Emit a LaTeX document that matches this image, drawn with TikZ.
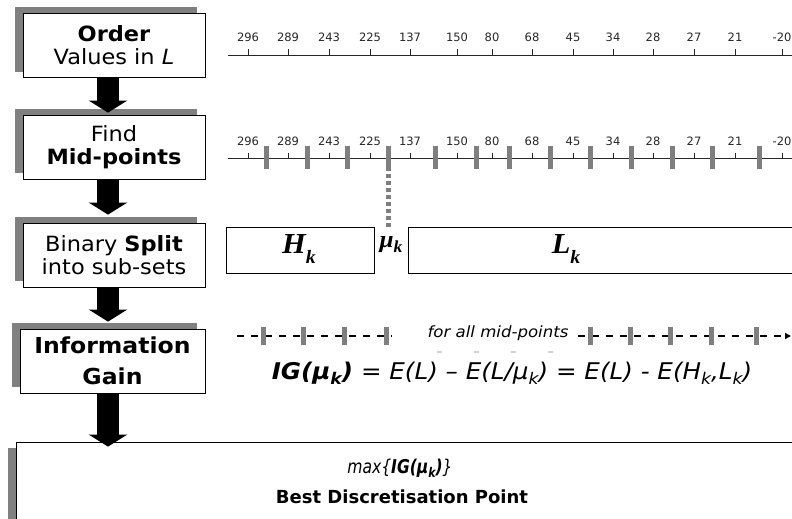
\documentclass[tikz,border=0pt]{standalone}
\usepackage{fontspec}
\setmainfont{DejaVu Sans}[FakeStretch=1.07]
\newfontfamily\plainsans{DejaVu Sans}
\newfontfamily\condsans{DejaVu Sans}[FakeStretch=0.82]
\newfontfamily\serifbi{Liberation Serif}[FakeStretch=1.05]
\usetikzlibrary{arrows.meta,shadows}
\newcommand\mysub[1]{\raisebox{-0.4ex}{\scalebox{0.7}{#1}}}
\newcommand\mysubl[1]{\raisebox{-0.75ex}{\scalebox{0.65}{#1}}}
\definecolor{shadowgray}{HTML}{808080}
\definecolor{bargray}{HTML}{7F7F7F}
\definecolor{axisgray}{HTML}{262626}
\begin{document}
\begin{tikzpicture}[x=1pt,y=-1pt,
  boxbase/.style={draw=black, line width=0.8pt, fill=white, align=center, inner sep=0pt},
  stepbox/.style={boxbase, minimum width=182pt, minimum height=64pt,
    general shadow={fill=shadowgray, shadow xshift=-8pt, shadow yshift=6pt},
    font=\fontsize{21}{23}\selectfont},
  resultbox/.style={boxbase, minimum width=784pt, minimum height=88pt,
    general shadow={fill=shadowgray, shadow xshift=-8pt, shadow yshift=-6pt}},
  setbox/.style={draw=black, line width=0.6pt, fill=white, inner sep=0pt, minimum height=46pt},
  flowarrow/.style={line width=22pt, -{Triangle[width=38pt,length=12pt]}, black},
  numlbl/.style={font=\plainsans\fontsize{11.5}{13}\selectfont, inner sep=0pt, text=axisgray},
  axisline/.style={axisgray, line width=0.8pt},
  midbar/.style={bargray, line width=5pt},
  flowdash/.style={black, line width=2pt, dash pattern=on 7pt off 7pt},
  mathtxt/.style={font=\fontsize{23}{26}\selectfont\itshape, inner sep=0pt},
]
\useasboundingbox (0,0) rectangle (792,519);

% ---- flow boxes
\node[stepbox] (b1) at (114,45.5) {\textbf{Order}\\Values in \textit{L}};
\node[stepbox] (b2) at (114,147) {Find\\\textbf{Mid-points}};
\node[stepbox] (b3) at (114,255) {Binary \textbf{Split}\\into sub-sets};
\node[stepbox, minimum width=185pt, font=\fontsize{22}{31}\selectfont] (b4) at (112.5,361) {\textbf{Information}\\\textbf{Gain}};
\node[resultbox] (b5) at (408,486) {};
\node[inner sep=0pt, font=\condsans\fontsize{19}{21}\selectfont\itshape] (m1) at (400,468) {max\{\textbf{IG(μ\mysub{k})}\}};
\node[inner sep=0pt, font=\plainsans\fontsize{18}{21}\selectfont\bfseries] (m2) at (402,497) {Best Discretisation Point};

% ---- arrows
\coordinate (ax) at (108,0);
\draw[flowarrow] (b1.south -| ax) -- ([yshift=2pt]b2.north -| ax);
\draw[flowarrow] (b2.south -| ax) -- ([yshift=8pt]b3.north -| ax);
\draw[flowarrow] (b3.south -| ax) -- ([yshift=7pt]b4.north -| ax);
\draw[flowarrow] (b4.south -| ax) -- ([yshift=-5pt]b5.north -| ax);

% ---- number lines
\draw[axisline] (228,55) -- (792,55);
\draw[axisline] (228,158) -- (792,158);
\foreach \x/\v [count=\i] in {248/296,288/289,329/243,370/225,410/137,457/150,492/80,532/68,573/45,613/34,653/28,694/27,735/21,782/-20}{
  \node[numlbl] (la\i) at (\x,37) {\v};
  \draw[axisline] (\x,49.5) -- (\x,55);
  \node[numlbl] (lb\i) at (\x,141) {\v};
  \draw[axisline] (\x,152.5) -- (\x,158);
}
\foreach \x in {266,307,347,435,476,509,550,590,631,672,712,759}{
  \draw[midbar] (\x,146) -- (\x,169);
}
\draw[midbar] (388,146) -- (388,171);
\draw[bargray, line width=5pt, dash pattern=on 4pt off 3pt] (388,174) -- (388,229);

% ---- split sets
\node[setbox, minimum width=148pt] (hk) at (300,250) {};
\node[setbox, minimum width=392pt] (lk) at (604,250) {};
\node[inner sep=0pt, font=\fontsize{29}{30}\selectfont\serifbi\bfseries\itshape] (hkt) at (299,249) {H\mysubl{k}};
\node[inner sep=0pt, font=\fontsize{29}{30}\selectfont\serifbi\bfseries\itshape] (lkt) at (566,249) {L\mysubl{k}};
\node[inner sep=0pt, font=\fontsize{24}{26}\selectfont\serifbi\bfseries\itshape] (mu) at (391,245) {μ\mysub{k}};

% ---- information gain line
\coordinate (d1) at (237,336);
\coordinate (d2) at (392,336);
\coordinate (d3) at (578,336);
\coordinate (d4) at (791,336);
\draw[flowdash] (d1) -- (d2);
\draw[flowdash, -{Triangle[length=6pt,width=6pt]}] (d3) -- (d4);
\foreach \x in {263,303,344,386,590,630,670,711,756}{
  \draw[midbar] (\x,327) -- (\x,345);
}
\draw[bargray!35, line width=1.5pt, dash pattern=on 5pt off 32pt] (437,352) -- (560,352);
\node[anchor=base, inner sep=0pt, font=\fontsize{15.5}{17}\selectfont\itshape] (fam) at (498,337) {for all mid-points};
\node[mathtxt] (ig) at (512,373) {\textbf{IG(μ\mysub{k})} = E(L) – E(L/μ\mysub{k}) = E(L) - E(H\mysub{k},L\mysub{k})};
\end{tikzpicture}
\end{document}
